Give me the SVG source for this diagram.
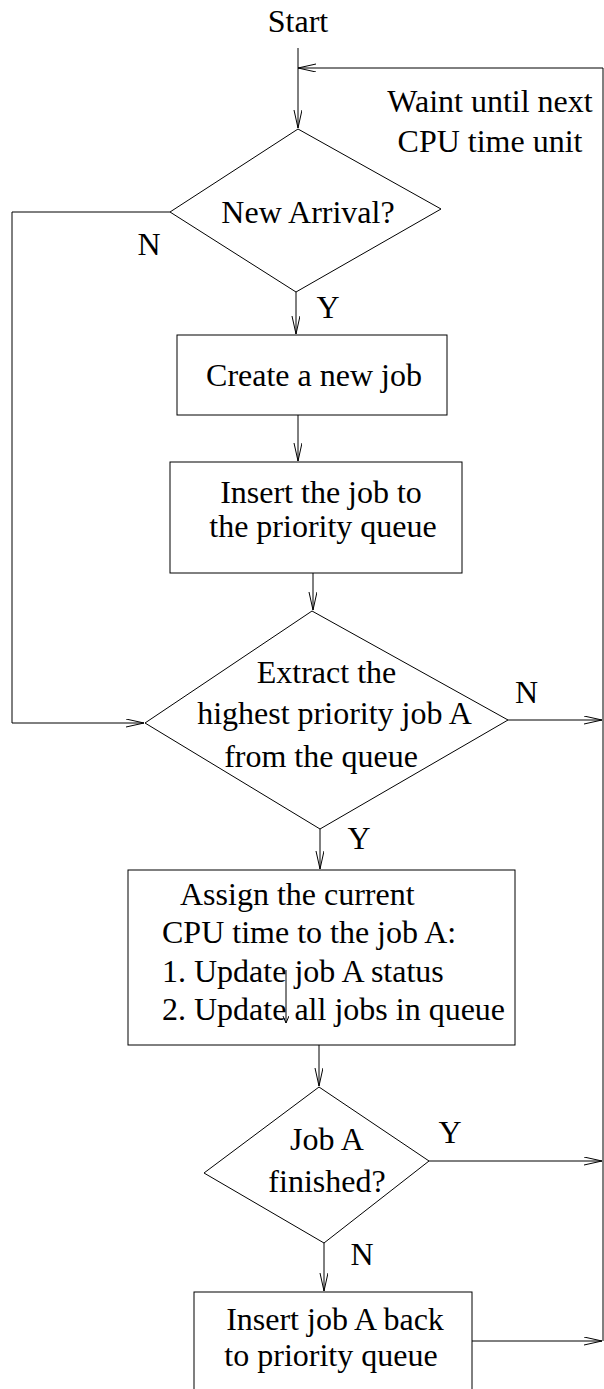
<svg xmlns="http://www.w3.org/2000/svg" width="604" height="1389" viewBox="0 0 604 1389">
<style>
.n{fill:none;stroke:#000;stroke-width:1}
.c{fill:none;stroke:#000;stroke-width:1}
text{font-family:"Liberation Serif","Times New Roman",serif;font-size:32px;fill:#000}
.m{text-anchor:middle}
</style>
<defs>
<marker id="a" markerUnits="userSpaceOnUse" markerWidth="20" markerHeight="10" refX="18" refY="4" orient="auto">
<path d="M0,0 L18,4 L0,8" fill="none" stroke="#000" stroke-width="1"/>
</marker>
<marker id="s" markerUnits="userSpaceOnUse" markerWidth="9" markerHeight="8" refX="7" refY="3" orient="auto">
<path d="M0,0 L7,3 L0,6" fill="none" stroke="#000" stroke-width="1"/>
</marker>
</defs>
<rect width="604" height="1389" fill="#fff"/>
<g id="connectors">
<path class="c" d="M298,48 V128" marker-end="url(#a)"/>
<path class="c" d="M603,1341 V68 H298" marker-end="url(#a)"/>
<path class="c" d="M170,212 H12 V723 H144" marker-end="url(#a)"/>
<path class="c" d="M296,292 V334" marker-end="url(#a)"/>
<path class="c" d="M298,415 V461" marker-end="url(#a)"/>
<path class="c" d="M313,573 V610" marker-end="url(#a)"/>
<path class="c" d="M508,720 H602" marker-end="url(#a)"/>
<path class="c" d="M320,829 V869" marker-end="url(#a)"/>
<path class="c" d="M286,970 V1023" marker-end="url(#s)"/>
<path class="c" d="M319,1045 V1086" marker-end="url(#a)"/>
<path class="c" d="M429,1161 H602" marker-end="url(#a)"/>
<path class="c" d="M324,1243 V1291" marker-end="url(#a)"/>
<path class="c" d="M472,1341 H602" marker-end="url(#a)"/>
</g>
<g id="start"><text class="m" x="298" y="32">Start</text></g>
<g id="wait">
<text class="m" x="490" y="112">Waint until next</text>
<text class="m" x="490" y="152">CPU time unit</text>
</g>
<g id="d1">
<polygon class="n" points="298,129 441,209 296,292 170,212"/>
<text class="m" x="308" y="223">New Arrival?</text>
</g>
<g id="l1"><text class="m" x="149" y="255">N</text><text class="m" x="328" y="318">Y</text></g>
<g id="b1">
<rect class="n" x="177" y="335" width="270" height="80"/>
<text class="m" x="314" y="386">Create a new job</text>
</g>
<g id="b2">
<rect class="n" x="170" y="462" width="292" height="111"/>
<text class="m" x="321" y="503">Insert the job to</text>
<text class="m" x="323" y="537">the priority queue</text>
</g>
<g id="d2">
<polygon class="n" points="312,611 508,720 320,829 145,723"/>
<text class="m" x="326.5" y="683">Extract the</text>
<text class="m" x="334.5" y="724">highest priority job A</text>
<text class="m" x="321" y="767">from the queue</text>
</g>
<g id="l2"><text class="m" x="526.5" y="703">N</text><text class="m" x="359" y="849">Y</text></g>
<g id="b3">
<rect class="n" x="128" y="870" width="387" height="175"/>
<text x="180" y="905">Assign the current</text>
<text x="162" y="943">CPU time to the job A:</text>
<text x="162" y="982">1. Update job A status</text>
<text x="162" y="1020">2. Update all jobs in queue</text>
</g>
<g id="d3">
<polygon class="n" points="319,1087 429,1161 324,1243 204,1173"/>
<text class="m" x="327" y="1150">Job A</text>
<text class="m" x="327" y="1192">finished?</text>
</g>
<g id="l3"><text class="m" x="450" y="1143">Y</text><text class="m" x="362" y="1265">N</text></g>
<g id="b4">
<rect class="n" x="194" y="1292" width="278" height="120"/>
<text class="m" x="335" y="1330">Insert job A back</text>
<text class="m" x="331" y="1366">to priority queue</text>
</g>
</svg>
